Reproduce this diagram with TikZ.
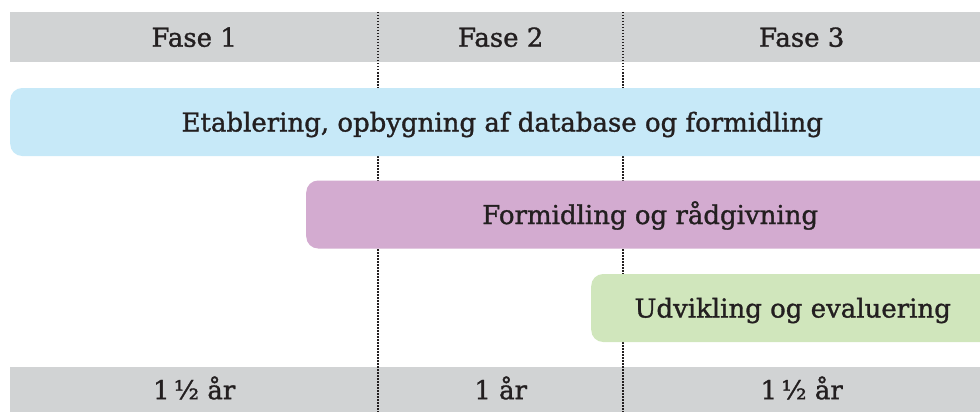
\documentclass[tikz,border=0pt]{standalone}
\usepackage{fontspec}
\setmainfont{DejaVu Serif}[FakeBold=1.2]
\usepackage{tikz}
\definecolor{cellgray}{HTML}{D1D3D4}
\definecolor{barblue}{HTML}{C7E9F8}
\definecolor{barpurple}{HTML}{D3ABD0}
\definecolor{bargreen}{HTML}{D0E6BC}
\definecolor{ink}{HTML}{231F20}
\tikzset{
  cell/.style={fill=cellgray, anchor=north west, inner sep=0pt, text=ink,
    font=\fontsize{26}{31}\selectfont, text height=19pt, text depth=0pt},
  bar/.style={anchor=west, inner sep=0pt, rounded corners=12pt, minimum width=#1, minimum height=68pt,
    text=ink, font=\fontsize{26}{31}\selectfont, text height=19pt, text depth=0pt},
  divider/.style={ink, line width=2pt, dash pattern=on 1.5pt off 1.5pt}
}
\begin{document}
\begin{tikzpicture}[x=1pt,y=-1pt]
                \useasboundingbox (0,0) rectangle (980,412);
                \clip (0,0) rectangle (980,412);
                \node [cell, minimum width=368pt, minimum height=50pt] (fase1) at (10,12) {Fase 1};
                \node [cell, minimum width=245pt, minimum height=50pt] (fase2) at (378,12) {Fase 2};
                \node [cell, minimum width=357pt, minimum height=50pt] (fase3) at (623,12) {Fase 3};
                \node [cell, minimum width=368pt, minimum height=45pt] (tid1) at (10,367) {1\,½ år};
                \node [cell, minimum width=245pt, minimum height=45pt] (tid2) at (378,367) {1 år};
                \node [cell, minimum width=357pt, minimum height=45pt] (tid3) at (623,367) {1\,½ år};
                \draw [divider] (fase1.north east) -- (tid1.south east);
                \draw [divider] (fase2.north east) -- (tid2.south east);
                \node [bar=984pt, fill=barblue] (etablering) at (10,122) {Etablering, opbygning af database og formidling};
                \node [bar=688pt, fill=barpurple] (formidling) at (306,214.5) {Formidling og rådgivning};
                \node [bar=403pt, fill=bargreen] (udvikling) at (591,308) {Udvikling og evaluering};
            \end{tikzpicture}
\end{document}
